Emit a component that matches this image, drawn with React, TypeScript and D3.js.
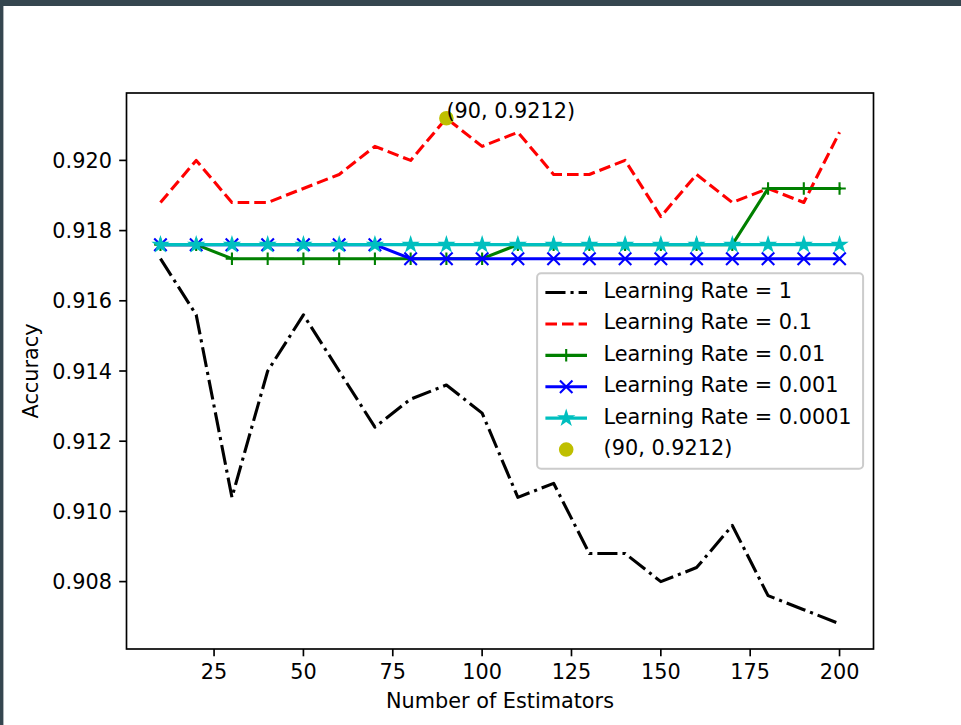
import * as d3 from 'd3';

const W = 961;
const H = 725;

const estimators = [10, 20, 30, 40, 50, 60, 70, 80, 90, 100, 110, 120, 130, 140, 150, 160, 170, 180, 190, 200];
const lr1 = [0.9172, 0.9156, 0.9104, 0.9140, 0.9156, 0.9140, 0.9124, 0.9132, 0.9136, 0.9128, 0.9104, 0.9108, 0.9088, 0.9088, 0.9080, 0.9084, 0.9096, 0.9076, 0.9072, 0.9068];
const lr01 = [0.9188, 0.9200, 0.9188, 0.9188, 0.9192, 0.9196, 0.9204, 0.9200, 0.9212, 0.9204, 0.9208, 0.9196, 0.9196, 0.9200, 0.9184, 0.9196, 0.9188, 0.9192, 0.9188, 0.9208];
const lr001 = [0.9176, 0.9176, 0.9172, 0.9172, 0.9172, 0.9172, 0.9172, 0.9172, 0.9172, 0.9172, 0.9176, 0.9176, 0.9176, 0.9176, 0.9176, 0.9176, 0.9176, 0.9192, 0.9192, 0.9192];
const lr0001 = [0.9176, 0.9176, 0.9176, 0.9176, 0.9176, 0.9176, 0.9176, 0.9172, 0.9172, 0.9172, 0.9172, 0.9172, 0.9172, 0.9172, 0.9172, 0.9172, 0.9172, 0.9172, 0.9172, 0.9172];
const lr00001 = [0.9176, 0.9176, 0.9176, 0.9176, 0.9176, 0.9176, 0.9176, 0.9176, 0.9176, 0.9176, 0.9176, 0.9176, 0.9176, 0.9176, 0.9176, 0.9176, 0.9176, 0.9176, 0.9176, 0.9176];
const best = { x: 90, y: 0.9212 };
const xTicks = [25, 50, 75, 100, 125, 150, 175, 200];
const yTicks = [0.908, 0.910, 0.912, 0.914, 0.916, 0.918, 0.920];

type Marker = 'none' | 'plus' | 'x' | 'star';
interface Series {
  label: string;
  values: number[];
  color: string;
  dash?: string;
  marker: Marker;
}

const series: Series[] = [
  { label: 'Learning Rate = 1', values: lr1, color: '#000000', dash: '20.1,5,3.1,5', marker: 'none' },
  { label: 'Learning Rate = 0.1', values: lr01, color: '#ff0000', dash: '11.6,5', marker: 'none' },
  { label: 'Learning Rate = 0.01', values: lr001, color: '#008000', marker: 'plus' },
  { label: 'Learning Rate = 0.001', values: lr0001, color: '#0000ff', marker: 'x' },
  { label: 'Learning Rate = 0.0001', values: lr00001, color: '#00bfbf', marker: 'star' },
];

const FONT = 'DejaVu Sans';
const FS = 20.8;
const LW = 3.1;
const MS = 6.25; // half marker size
const MEW = 2.1;

const margin = { left: 126.5, right: 873.5, top: 93, bottom: 649 };

const starPath = (() => {
  const pts: string[] = [];
  for (let i = 0; i < 10; i++) {
    const r = i % 2 === 0 ? MS : MS * 0.381966;
    const a = (Math.PI / 5) * i - Math.PI / 2;
    pts.push(`${(r * Math.cos(a)).toFixed(2)},${(r * Math.sin(a)).toFixed(2)}`);
  }
  return 'M' + pts.join('L') + 'Z';
})();

function MarkerShape({ kind, x, y, color }: { kind: Marker; x: number; y: number; color: string }) {
  if (kind === 'plus') {
    return <path d={`M${x - MS},${y}H${x + MS}M${x},${y - MS}V${y + MS}`} stroke={color} strokeWidth={MEW} fill="none" />;
  }
  if (kind === 'x') {
    return <path d={`M${x - MS},${y - MS}L${x + MS},${y + MS}M${x - MS},${y + MS}L${x + MS},${y - MS}`} stroke={color} strokeWidth={MEW} fill="none" />;
  }
  if (kind === 'star') {
    return <path d={starPath} transform={`translate(${x},${y})`} fill={color} stroke={color} strokeWidth={MEW} strokeLinejoin="miter" />;
  }
  return null;
}

export default function App() {
  const allVals = series.flatMap(s => s.values);
  const [yMin, yMax] = d3.extent(allVals) as [number, number];
  const [xMin, xMax] = d3.extent(estimators) as [number, number];
  const yPad = (yMax - yMin) * 0.05;
  const xPad = (xMax - xMin) * 0.05;

  const x = d3.scaleLinear().domain([xMin - xPad, xMax + xPad]).range([margin.left, margin.right]);
  const y = d3.scaleLinear().domain([yMin - yPad, yMax + yPad]).range([margin.bottom, margin.top]);

  const line = d3.line<number>()
    .x((_, i) => x(estimators[i]))
    .y(d => y(d));

  const tickLen = 7.3;
  const pad = 7.3;

  // legend layout (center right)
  const legW = 326;
  const legH = 195.5;
  const legR = margin.right - 10.4;
  const legL = legR - legW;
  const legT = (margin.top + margin.bottom) / 2 - legH / 2;
  const rowStep = 31.4;
  const firstRow = legT + 8.3 + 10.4 + 0.6;
  const handleX0 = legL + 8.3;
  const handleX1 = handleX0 + 41.6;
  const textX = handleX1 + 16.6;

  const legendRows = [...series.map(s => ({ label: s.label, s })), { label: `(${best.x}, ${best.y})`, s: null as Series | null }];

  return (
    <div style={{ position: 'absolute', left: 0, top: 0, width: W, height: H }}>
      <svg width={W} height={H} style={{ display: 'block' }} fontFamily={FONT}>
        <rect x={0} y={0} width={W} height={H} fill="#ffffff" />
        <rect x={0} y={0} width={W} height={6} fill="#35464f" />
        <rect x={0} y={0} width={3.4} height={H} fill="#35464f" />

        {/* lines */}
        {series.map(s => (
          <g key={s.label}>
            <path
              d={line(s.values) ?? ''}
              fill="none"
              stroke={s.color}
              strokeWidth={LW}
              strokeDasharray={s.dash}
              strokeLinejoin="round"
              strokeLinecap={s.dash ? 'butt' : 'square'}
            />
            {s.marker !== 'none' && s.values.map((v, i) => (
              <MarkerShape key={i} kind={s.marker} x={x(estimators[i])} y={y(v)} color={s.color} />
            ))}
          </g>
        ))}

        <circle cx={x(best.x)} cy={y(best.y)} r={MS} fill="#bfbf00" stroke="#bfbf00" strokeWidth={MEW} />
        <text x={x(best.x)} y={y(best.y)} fontSize={FS} fill="#000">{`(${best.x}, ${best.y})`}</text>

        {/* axes frame */}
        <rect
          x={margin.left}
          y={margin.top}
          width={margin.right - margin.left}
          height={margin.bottom - margin.top}
          fill="none"
          stroke="#000"
          strokeWidth={1.67}
        />

        {/* x ticks */}
        {xTicks.map(t => (
          <g key={t}>
            <line x1={x(t)} x2={x(t)} y1={margin.bottom} y2={margin.bottom + tickLen} stroke="#000" strokeWidth={1.67} />
            <text x={x(t)} y={margin.bottom + tickLen + pad + 15.8} fontSize={FS} textAnchor="middle" fill="#000">{t}</text>
          </g>
        ))}

        {/* y ticks */}
        {yTicks.map(t => (
          <g key={t}>
            <line x1={margin.left - tickLen} x2={margin.left} y1={y(t)} y2={y(t)} stroke="#000" strokeWidth={1.67} />
            <text x={margin.left - tickLen - pad} y={y(t) + 7.6} fontSize={FS} textAnchor="end" fill="#000">{d3.format('.3f')(t)}</text>
          </g>
        ))}

        <text x={(margin.left + margin.right) / 2} y={708} fontSize={FS} textAnchor="middle" fill="#000">Number of Estimators</text>
        <text
          transform={`translate(38,${(margin.top + margin.bottom) / 2}) rotate(-90)`}
          fontSize={FS}
          textAnchor="middle"
          fill="#000"
        >Accuracy</text>

        {/* legend */}
        <rect x={legL} y={legT} width={legW} height={legH} rx={4} fill="#ffffff" fillOpacity={0.8} stroke="#cccccc" strokeWidth={2} />
        {legendRows.map((r, i) => {
          const cy = firstRow + i * rowStep;
          const mid = (handleX0 + handleX1) / 2;
          return (
            <g key={r.label}>
              {r.s ? (
                <>
                  <line
                    x1={handleX0}
                    x2={handleX1}
                    y1={cy}
                    y2={cy}
                    stroke={r.s.color}
                    strokeWidth={LW}
                    strokeDasharray={r.s.dash}
                  />
                  {r.s.marker !== 'none' && <MarkerShape kind={r.s.marker} x={mid} y={cy} color={r.s.color} />}
                </>
              ) : (
                <circle cx={mid} cy={cy} r={MS} fill="#bfbf00" stroke="#bfbf00" strokeWidth={MEW} />
              )}
              <text x={textX} y={cy + 5.4} fontSize={FS} fill="#000">{r.label}</text>
            </g>
          );
        })}
      </svg>
    </div>
  );
}
